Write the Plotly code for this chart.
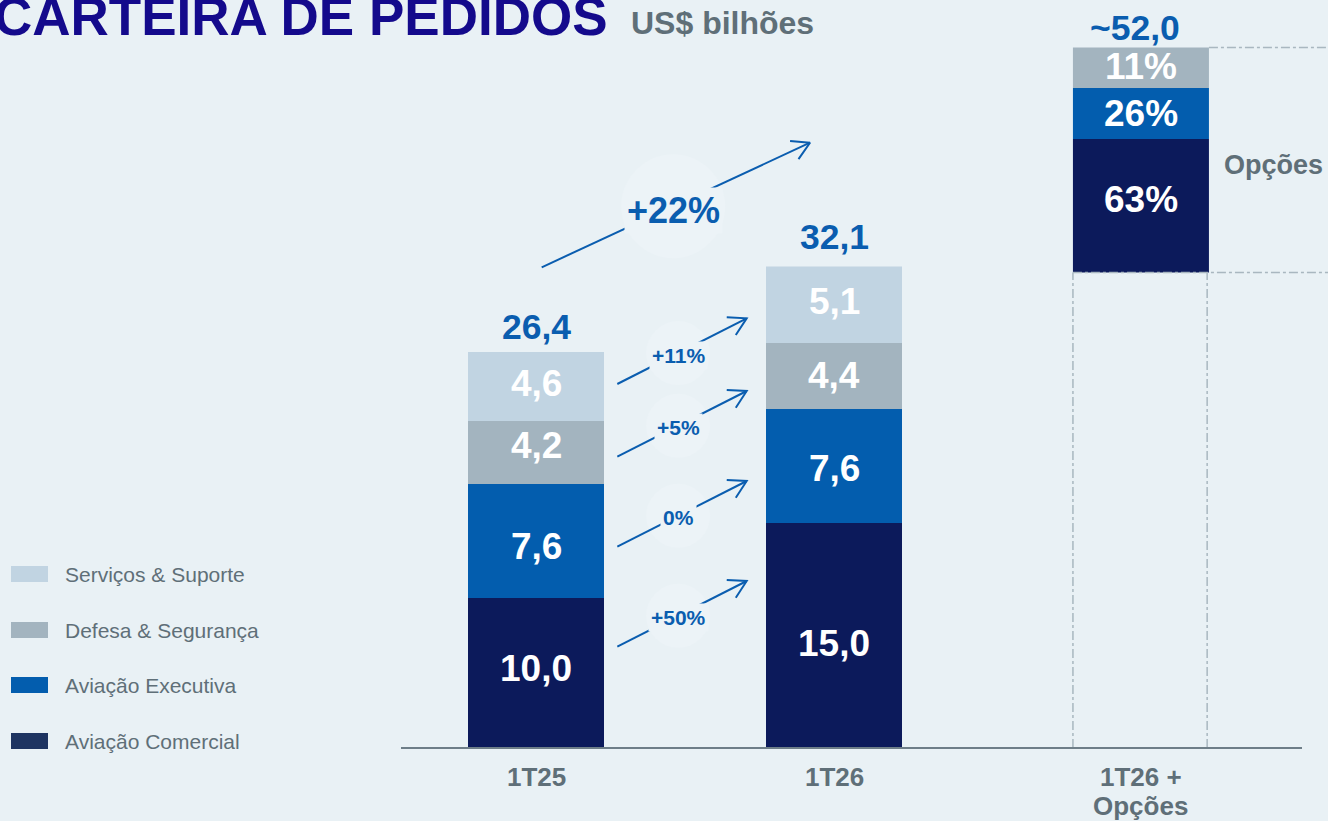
import math
import plotly.graph_objects as go

# ---------------- data ----------------
categories = ["1T25", "1T26", "1T26 +<br>Opções"]
series = ["Aviação Comercial", "Aviação Executiva", "Defesa & Segurança", "Serviços & Suporte"]
v_1t25 = [10.0, 7.6, 4.2, 4.6]
v_1t26 = [15.0, 7.6, 4.4, 5.1]
totals = ["26,4", "32,1", "~52,0"]
options_share = ["63%", "26%", "11%"]          # Comercial, Executiva, Defesa
options_heights = [8.9, 3.4, 2.7]               # drawn (not to scale) heights
options_base = 31.7
growth = ["+50%", "0%", "+5%", "+11%"]          # per series, same order as `series`
total_growth = "+22%"

# ---------------- style ----------------
FONT = "Liberation Sans, Arial, sans-serif"
BG = "#E9F1F5"
bar_colors = ["#0C1A5B", "#035DAE", "#A3B4BF", "#C1D4E2"]
legend_colors = ["#1E3461", "#035DAE", "#A3B4BF", "#C1D4E2"]
BLUE_TXT = "#0A5DAF"
GREY_TXT = "#5F6F78"
TITLE_C = "#140A8C"
DASH_C = "#A9B7C0"

W, H = 1328, 821
X0, XU = 536, 298.0     # px of x=0, px per x unit
Y0, YU = 748, 15.0      # px of y=0, px per y unit
xpos = [0, 1, 2.03]
BAR_W = 136 / XU
# per-label vertical nudges in px (positive = down), [bar][series]
label_dy = [[-3, 7, -5, -1], [10, 4, 1, -1], [-4, 2, 1, 0]]
tot_shift = [25, 30, 20]
tot_dx = [0, 0, -6]


def px2x(p):
    return (p - X0) / XU


def px2y(p):
    return (Y0 - p) / YU


fig = go.Figure()
circles = []
annotations = []

# ---------------- bars ----------------
cum1 = [sum(v_1t25[:i]) for i in range(4)]
cum2 = [sum(v_1t26[:i]) for i in range(4)]
for i, s in enumerate(series):
    ys = [v_1t25[i], v_1t26[i], options_heights[i] if i < 3 else None]
    bases = [cum1[i], cum2[i], options_base + sum(options_heights[:i]) if i < 3 else None]
    fig.add_trace(go.Bar(
        x=xpos, y=ys, base=bases, width=BAR_W, name=s,
        marker=dict(color=bar_colors[i], line=dict(width=0)),
        showlegend=False, hoverinfo="skip"))
    labels = [f"{v_1t25[i]:.1f}".replace(".", ","), f"{v_1t26[i]:.1f}".replace(".", ","),
              options_share[i] if i < 3 else None]
    for j in range(3):
        if ys[j] is None:
            continue
        annotations.append(dict(
            x=xpos[j], y=bases[j] + ys[j] / 2, text=f"<b>{labels[j]}</b>",
            showarrow=False, xanchor="center", yanchor="middle", yshift=2 - label_dy[j][i],
            font=dict(family=FONT, size=37, color="white")))

# totals
tops = [sum(v_1t25), sum(v_1t26), options_base + sum(options_heights)]
for j in range(3):
    annotations.append(dict(
        x=xpos[j], y=tops[j], text=f"<b>{totals[j]}</b>", showarrow=False,
        xanchor="center", yanchor="middle", yshift=tot_shift[j], xshift=tot_dx[j],
        font=dict(family=FONT, size=35.5, color=BLUE_TXT)))

# category labels (one annotation per line)
for j in range(3):
    for k, line in enumerate(categories[j].split("<br>")):
        annotations.append(dict(
            x=xpos[j], y=0, text=f"<b>{line}</b>", showarrow=False,
            xanchor="center", yanchor="middle", yshift=-29 - 29 * k,
            font=dict(family=FONT, size=26, color=GREY_TXT)))


# ---------------- arrows ----------------
def add_arrow(sx_px, sy_px, ex_px, ey_px, label, size, t_lab, circ_r, lab_dy):
    ang = math.atan2(sy_px - ey_px, sx_px - ex_px)
    wl = 20
    w1 = (ex_px + wl * math.cos(ang + math.radians(30)), ey_px + wl * math.sin(ang + math.radians(30)))
    w2 = (ex_px + wl * math.cos(ang - math.radians(30)), ey_px + wl * math.sin(ang - math.radians(30)))
    xs = [sx_px, ex_px, None, w1[0], ex_px, w2[0]]
    ys = [sy_px, ey_px, None, w1[1], ey_px, w2[1]]
    fig.add_trace(go.Scatter(
        x=[px2x(v) if v is not None else None for v in xs],
        y=[px2y(v) if v is not None else None for v in ys],
        mode="lines", line=dict(color=BLUE_TXT, width=2),
        showlegend=False, hoverinfo="skip"))
    lx = sx_px + t_lab * (ex_px - sx_px)
    ly = sy_px + t_lab * (ey_px - sy_px)
    circles.append(dict(type="circle", xref="x", yref="y",
                        x0=px2x(lx - circ_r), x1=px2x(lx + circ_r),
                        y0=px2y(ly - circ_r), y1=px2y(ly + circ_r),
                        fillcolor="#ECF3F7", line=dict(width=0), layer="below"))
    annotations.append(dict(
        x=px2x(lx), y=px2y(ly + lab_dy), text=f"<b>{label}</b>", showarrow=False,
        xanchor="center", yanchor="middle", bgcolor="#ECF3F7", borderpad=2,
        font=dict(family=FONT, size=size, color=BLUE_TXT)))


arrow_start_y = [646.7, 546.7, 456.7, 384.0]   # px, per series
for i in range(4):
    add_arrow(617.3, arrow_start_y[i], 617.3 + 129.4, arrow_start_y[i] - 65.7, growth[i], 21, 0.47, 32, 2)
add_arrow(541.7, 267.3, 810.0, 142.7, total_growth, 36, 0.49, 52, 4)

# ---------------- shapes ----------------
shapes = list(circles)
xl = xpos[2] - BAR_W / 2
xr = xpos[2] + BAR_W / 2
top3 = tops[2]
dash = dict(color=DASH_C, width=1.5, dash="dashdot")
shapes += [
    dict(type="line", xref="x", yref="y", x0=xl, x1=px2x(W), y0=options_base, y1=options_base, line=dash),
    dict(type="line", xref="x", yref="y", x0=xr, x1=px2x(W), y0=top3, y1=top3, line=dash),
    dict(type="line", xref="x", yref="y", x0=xl, x1=xl, y0=0, y1=options_base, line=dash),
    dict(type="line", xref="x", yref="y", x0=xr - 0.006, x1=xr - 0.006, y0=0, y1=options_base, line=dash),
    dict(type="line", xref="x", yref="y", x0=px2x(401), x1=px2x(1302), y0=0, y1=0,
         line=dict(color="#6E7E88", width=2), layer="above"),
]

# legend (manual)
leg_y = [741, 685, 630, 574]   # px centres, per series order
for i, s in enumerate(series):
    shapes.append(dict(type="rect", xref="x", yref="y", x0=px2x(11), x1=px2x(48),
                       y0=px2y(leg_y[i] + 8), y1=px2y(leg_y[i] - 8),
                       fillcolor=legend_colors[i], line=dict(width=0)))
    annotations.append(dict(x=px2x(63), y=px2y(leg_y[i]), text=s, showarrow=False,
                            xanchor="left", yanchor="middle",
                            font=dict(family=FONT, size=21, color=GREY_TXT)))

# titles (paper coordinates: plot area == whole figure)
annotations.append(dict(xref="paper", yref="paper", x=-8 / W, y=1 - 17 / H,
                        text="<b>CARTEIRA DE PEDIDOS</b>", showarrow=False,
                        xanchor="left", yanchor="middle",
                        font=dict(family=FONT, size=53, color=TITLE_C)))
annotations.append(dict(xref="paper", yref="paper", x=629 / W, y=1 - 23 / H,
                        text="<b>US$ bilhões</b>", showarrow=False,
                        xanchor="left", yanchor="middle",
                        font=dict(family=FONT, size=32, color=GREY_TXT)))
annotations.append(dict(x=px2x(1273), y=px2y(165), text="<b>Opções</b>", showarrow=False,
                        xanchor="center", yanchor="middle",
                        font=dict(family=FONT, size=27, color=GREY_TXT)))

fig.update_layout(
    width=W, height=H, barmode="overlay",
    margin=dict(l=0, r=0, t=0, b=0),
    paper_bgcolor=BG, plot_bgcolor=BG,
    xaxis=dict(range=[px2x(0), px2x(W)], visible=False, fixedrange=True),
    yaxis=dict(range=[px2y(H), px2y(0)], visible=False, fixedrange=True),
    shapes=shapes, annotations=annotations,
)

fig.write_html("out.html", config={"displayModeBar": False},
               post_script="document.body.style.margin='0';document.body.style.background='" + BG + "';")
